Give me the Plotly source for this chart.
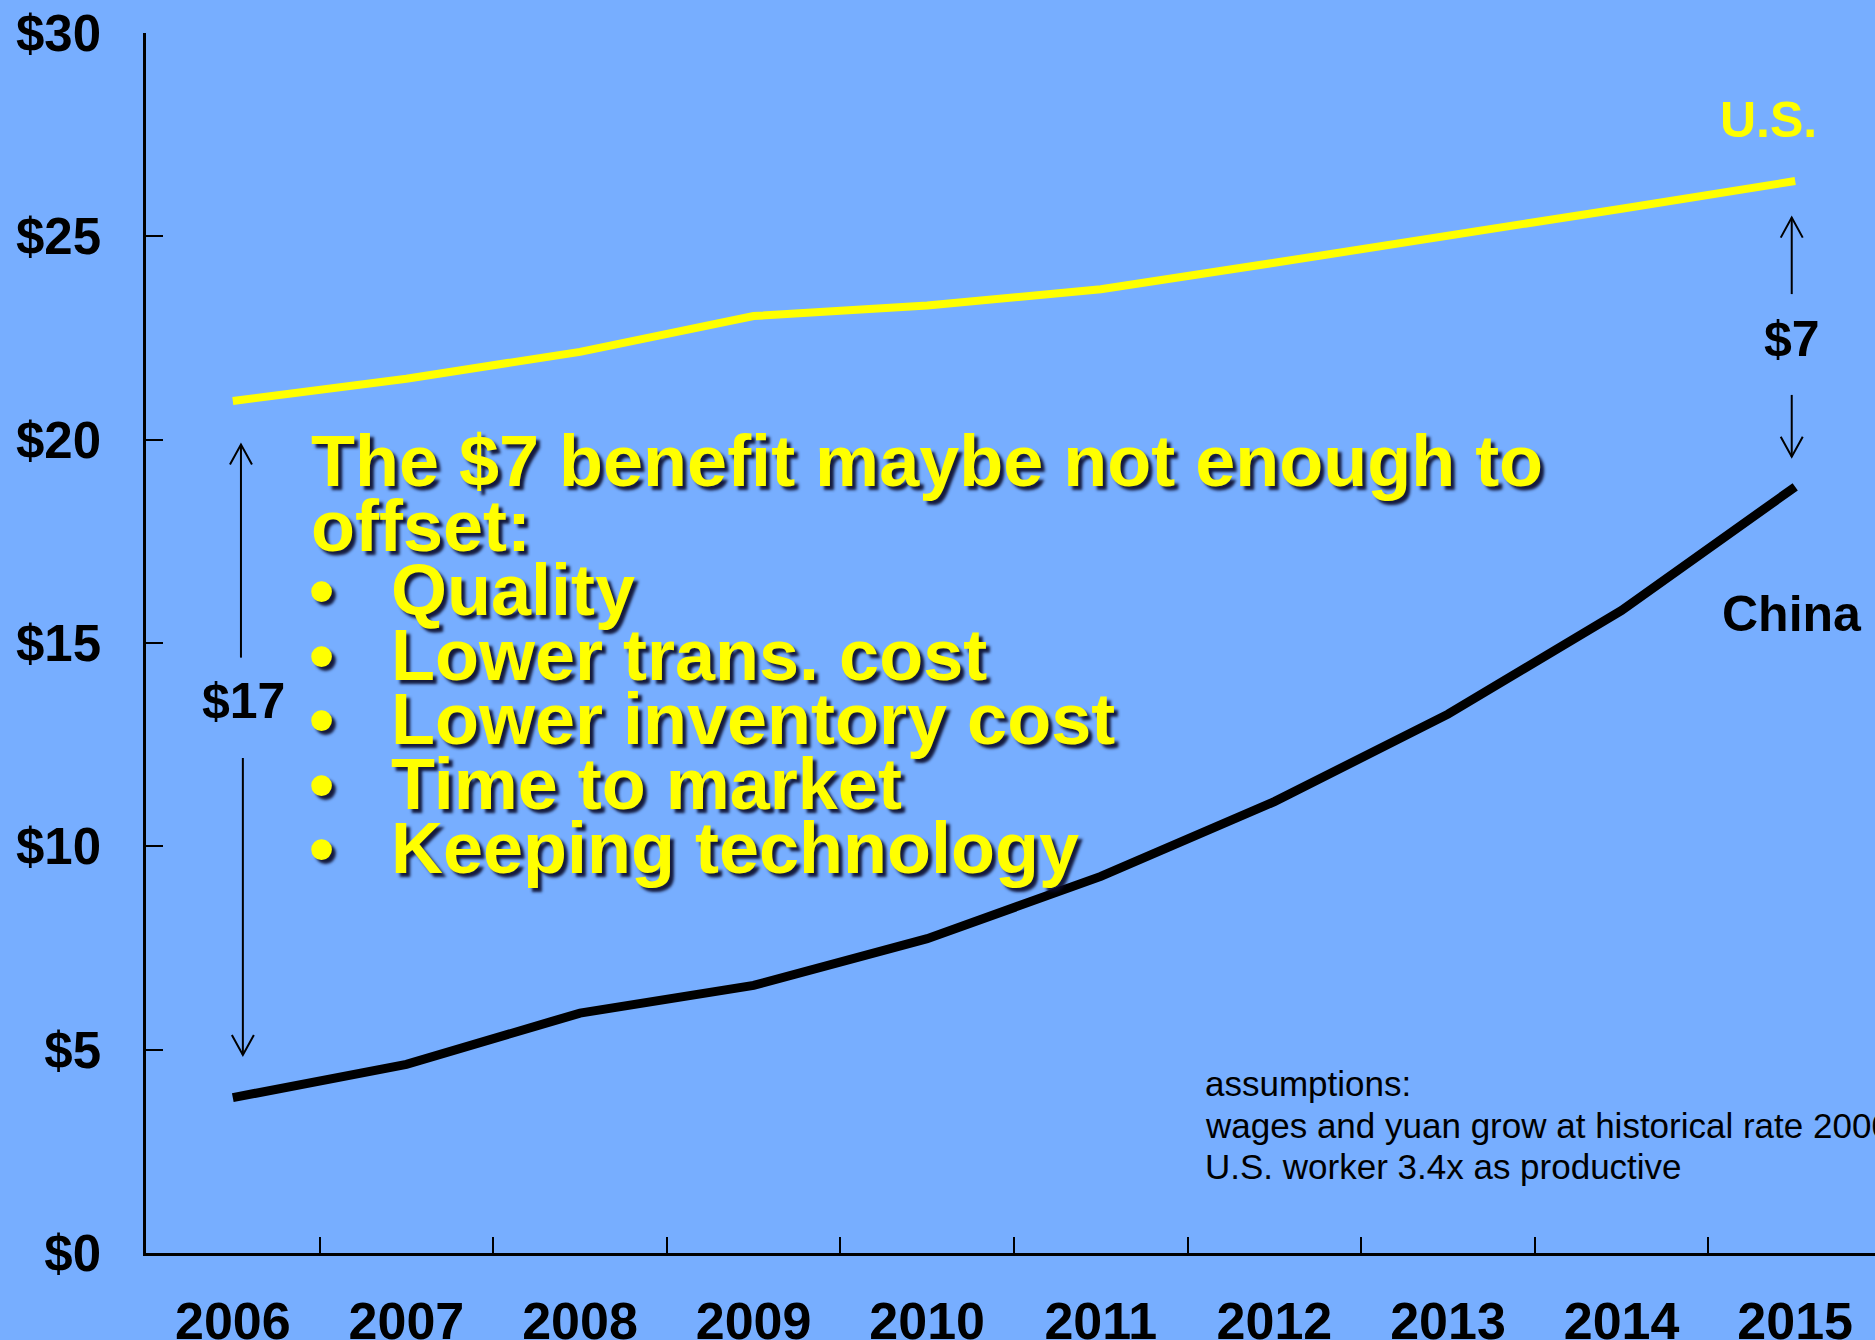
import plotly.graph_objects as go

# Hourly labour cost projection, U.S. vs China
years = ["2006", "2007", "2008", "2009", "2010", "2011", "2012", "2013", "2014", "2015"]
us_wage = [20.95, 21.5, 22.16, 23.04, 23.3, 23.7, 24.35, 25.0, 25.68, 26.36]
china_wage = [3.82, 4.64, 5.9, 6.58, 7.73, 9.26, 11.1, 13.25, 15.8, 18.84]

y_ticks = [0, 5, 10, 15, 20, 25, 30]

headline = ["The $7 benefit maybe not enough to", "offset:"]
bullets = ["Quality", "Lower trans. cost", "Lower inventory cost",
           "Time to market", "Keeping technology"]
notes = ["assumptions:",
         "wages and yuan grow at historical rate 2000-2006",
         "U.S. worker 3.4x as productive"]

W, H = 1875, 1340
ML, MR, MT, MB = 146, 0, 33, 87
BG = "#77AEFF"
YELLOW = "#FFFF00"
FONT = "Liberation Sans, Arial, sans-serif"
SHADOW = "4px 4px 3px rgba(10,10,40,0.9)"

fig = go.Figure()
fig.add_trace(go.Scatter(x=years, y=us_wage, mode="lines", name="U.S.",
                         line=dict(color=YELLOW, width=8), hoverinfo="skip"))
fig.add_trace(go.Scatter(x=years, y=china_wage, mode="lines", name="China",
                         line=dict(color="black", width=9), hoverinfo="skip"))


def px_x(px):
    return (px - ML) / (W - ML - MR)


def px_y(px):
    return 1 - (px - MT) / (H - MT - MB)


annotations = []


def text(px, py, s, size, color="black", bold=True, shadow=None, xanchor="center"):
    f = dict(family=FONT, size=size, color=color, weight="bold" if bold else "normal")
    if shadow:
        f["shadow"] = shadow
    annotations.append(dict(x=px_x(px), y=px_y(py), xref="paper", yref="paper",
                            text=s, showarrow=False, xanchor=xanchor, yanchor="middle",
                            font=f, borderpad=0))


# headline and bullet list
baselines = [486, 550.5, 615, 679.5, 744, 808.5, 873]
for i, s in enumerate(headline):
    text(310, baselines[i] - 25, s, 72, YELLOW, shadow=SHADOW, xanchor="left")
for j, s in enumerate(bullets):
    b = baselines[len(headline) + j]
    text(321, b - 25, "•", 72, YELLOW, shadow=SHADOW)
    text(390, b - 25, s, 72, YELLOW, shadow=SHADOW, xanchor="left")

# series labels
text(1768, 120, "U.S.", 50, YELLOW)
text(1792, 614, "China", 50, "black")

# gap labels
text(243, 701, "$17", 50)
text(1792, 339, "$7", 50)

# assumptions note
for k, (s, b) in enumerate(zip(notes, [1095, 1137, 1178])):
    text(1204, b - 12, s, 35, bold=False, xanchor="left")

# gap arrows: (x index, tip value, line end value, direction)
arrow_parts = [
    (0.047, 19.88, 14.64, "up"),
    (0.058, 4.87, 12.17, "down"),
    (8.98, 25.46, 23.58, "up"),
    (8.98, 19.58, 21.1, "down"),
]
shapes = []
for xi, tip, end, d in arrow_parts:
    shapes.append(dict(type="line", xref="x", yref="y", x0=xi, x1=xi, y0=tip, y1=end,
                       line=dict(color="black", width=2)))
    sgn = -1 if d == "up" else 1
    shapes.append(dict(type="path", xref="x", yref="y", xsizemode="pixel", ysizemode="pixel",
                       xanchor=xi, yanchor=tip,
                       path=f"M -11,{sgn*20} L 0,0 L 11,{sgn*20}",
                       line=dict(color="black", width=2)))

fig.update_layout(
    width=W, height=H, template="none",
    paper_bgcolor=BG, plot_bgcolor=BG,
    margin=dict(l=ML, r=MR, t=MT, b=MB, pad=0),
    showlegend=False,
    annotations=annotations,
    shapes=shapes,
    xaxis=dict(type="category", range=[-0.5, -0.5 + (W - ML - MR) / 173.6],
               tickson="boundaries", ticks="inside", ticklen=16, tickwidth=2,
               tickcolor="black", showline=True, linecolor="black", linewidth=2.5,
               showgrid=False, zeroline=False, automargin=False,
               tickfont=dict(family=FONT, size=52, color="black", weight="bold"),
               ticklabelstandoff=21),
    yaxis=dict(range=[0, 30], tickvals=y_ticks, ticktext=[f"${v}" for v in y_ticks],
               ticks="inside", ticklen=17, tickwidth=2, tickcolor="black",
               showline=True, linecolor="black", linewidth=2.5,
               showgrid=False, zeroline=False, automargin=False,
               tickfont=dict(family=FONT, size=51, color="black", weight="bold"),
               ticklabelstandoff=32),
)

fig.write_html("out.html")
